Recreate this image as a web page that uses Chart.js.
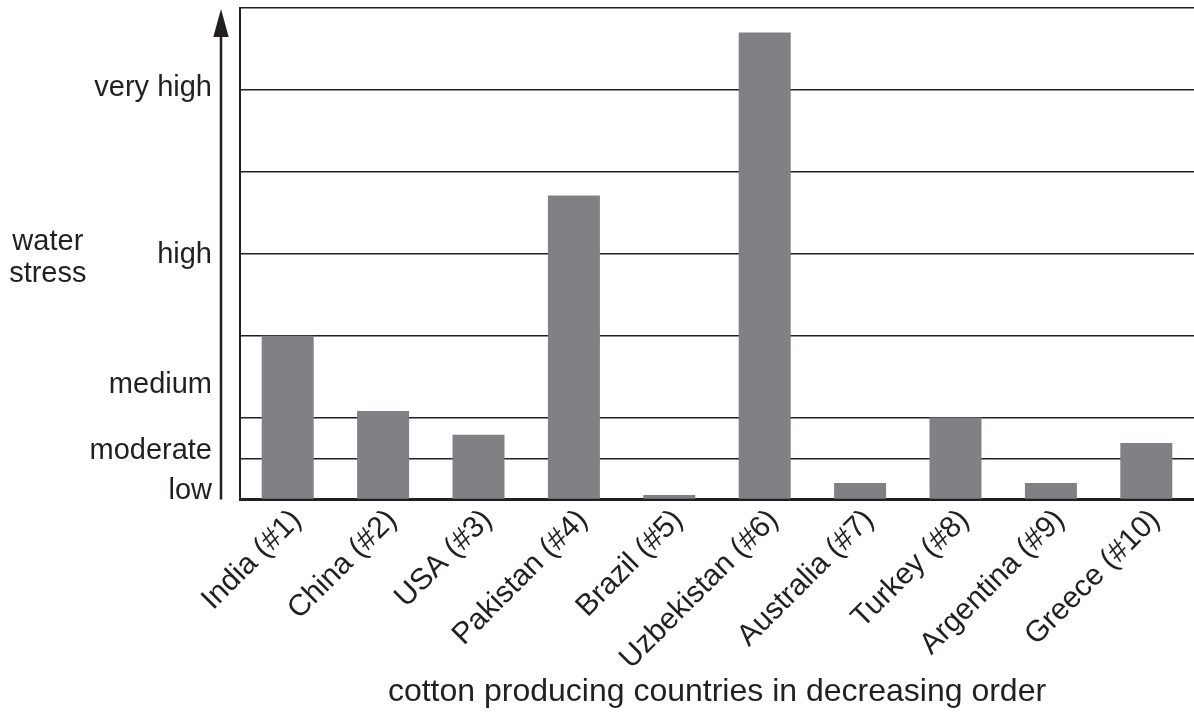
<!DOCTYPE html>
<html><head><meta charset="utf-8">
<script src="https://cdn.jsdelivr.net/npm/chart.js@4/dist/chart.umd.min.js"></script>
<style>html,body{margin:0;padding:0;background:#fff;}</style>
</head><body>
<canvas id="c" width="1194" height="713"></canvas>
<script>
const categories = ['India (#1)', 'China (#2)', 'USA (#3)', 'Pakistan (#4)', 'Brazil (#5)', 'Uzbekistan (#6)', 'Australia (#7)', 'Turkey (#8)', 'Argentina (#9)', 'Greece (#10)'];
const waterStress = [2.0, 1.08, 0.79, 3.71, 0.055, 5.70, 0.2, 1.0, 0.2, 0.69];
const gridValues = [0, 0.5, 1, 2, 3, 4, 5, 6];
const levelLabels = ['low', 'moderate', 'medium', 'high', 'very high'];
const levelValues = [0.10, 0.59, 1.40, 2.98, 5.02];
const yTitleLines = ['water', 'stress'];
const yTitleValue = [2.945];
const xTitle = 'cotton producing countries in decreasing order';

const INK = '#231f20';
const FONT = "'Liberation Sans', Arial, Helvetica, sans-serif";

const arrowPlugin = {
  id: 'axisArrow',
  afterDraw(chart) {
    const {ctx, chartArea} = chart;
    const x = chartArea.left - 19;
    ctx.save();
    ctx.strokeStyle = INK; ctx.fillStyle = INK; ctx.lineWidth = 2.5;
    ctx.beginPath(); ctx.moveTo(x, chartArea.bottom); ctx.lineTo(x, chartArea.top + 26); ctx.stroke();
    ctx.beginPath(); ctx.moveTo(x, chartArea.top + 1); ctx.lineTo(x - 7.7, chartArea.top + 29); ctx.lineTo(x + 7.7, chartArea.top + 29); ctx.closePath(); ctx.fill();
    ctx.restore();
  }
};

function noPad(s) { s.paddingTop = 0; s.paddingBottom = 0; }

new Chart(document.getElementById('c'), {
  type: 'bar',
  data: {
    labels: categories,
    datasets: [{
      data: waterStress,
      backgroundColor: '#808184',
      borderWidth: 0,
      barPercentage: 0.545,
      categoryPercentage: 1.0,
      xAxisID: 'x', yAxisID: 'y'
    }]
  },
  options: {
    responsive: false,
    animation: false,
    devicePixelRatio: 1,
    layout: { padding: { left: 10, top: 8, right: 0, bottom: 0 } },
    plugins: { legend: { display: false }, tooltip: { enabled: false } },
    scales: {
      x: {
        type: 'category',
        offset: true,
        z: 1,
        grid: { display: false, drawTicks: false },
        border: { display: true, width: 3, color: INK },
        ticks: { autoSkip: false, minRotation: 45, maxRotation: 45, padding: 3, labelOffset: 9, color: INK, font: { family: FONT, size: 30 } },
        title: { display: true, text: xTitle, color: INK, font: { family: FONT, size: 32 }, padding: { top: 0, bottom: 2 } },
        afterFit(s) { s.height = 213.5; s.paddingLeft = 0; s.paddingRight = 0; }
      },
      y: {
        type: 'linear', position: 'left', min: 0, max: 6, weight: 0,
        afterBuildTicks(s) { s.ticks = gridValues.map(v => ({ value: v })); },
        ticks: { display: false },
        grid: { color: INK, lineWidth: 1.5, drawTicks: false },
        border: { display: true, width: 2, color: INK },
        afterFit(s) { s.width = 0; noPad(s); }
      },
      yLevels: {
        type: 'linear', position: 'left', min: 0, max: 6, weight: 1,
        afterBuildTicks(s) { s.ticks = levelValues.map(v => ({ value: v })); },
        ticks: { callback: (v, i) => levelLabels[i], padding: 28, color: INK, font: { family: FONT, size: 29 } },
        grid: { display: false, drawTicks: false },
        border: { display: false },
        afterFit(s) { s.width = 150; noPad(s); }
      },
      yTitle: {
        type: 'linear', position: 'left', min: 0, max: 6, weight: 2,
        afterBuildTicks(s) { s.ticks = yTitleValue.map(v => ({ value: v })); },
        ticks: { callback: () => yTitleLines, crossAlign: 'center', padding: 3.5, color: INK, font: { family: FONT, size: 29, lineHeight: 1.1 } },
        grid: { display: false, drawTicks: false },
        border: { display: false },
        afterFit(s) { s.width = 80; noPad(s); }
      }
    }
  },
  plugins: [arrowPlugin]
});
</script>
</body></html>
